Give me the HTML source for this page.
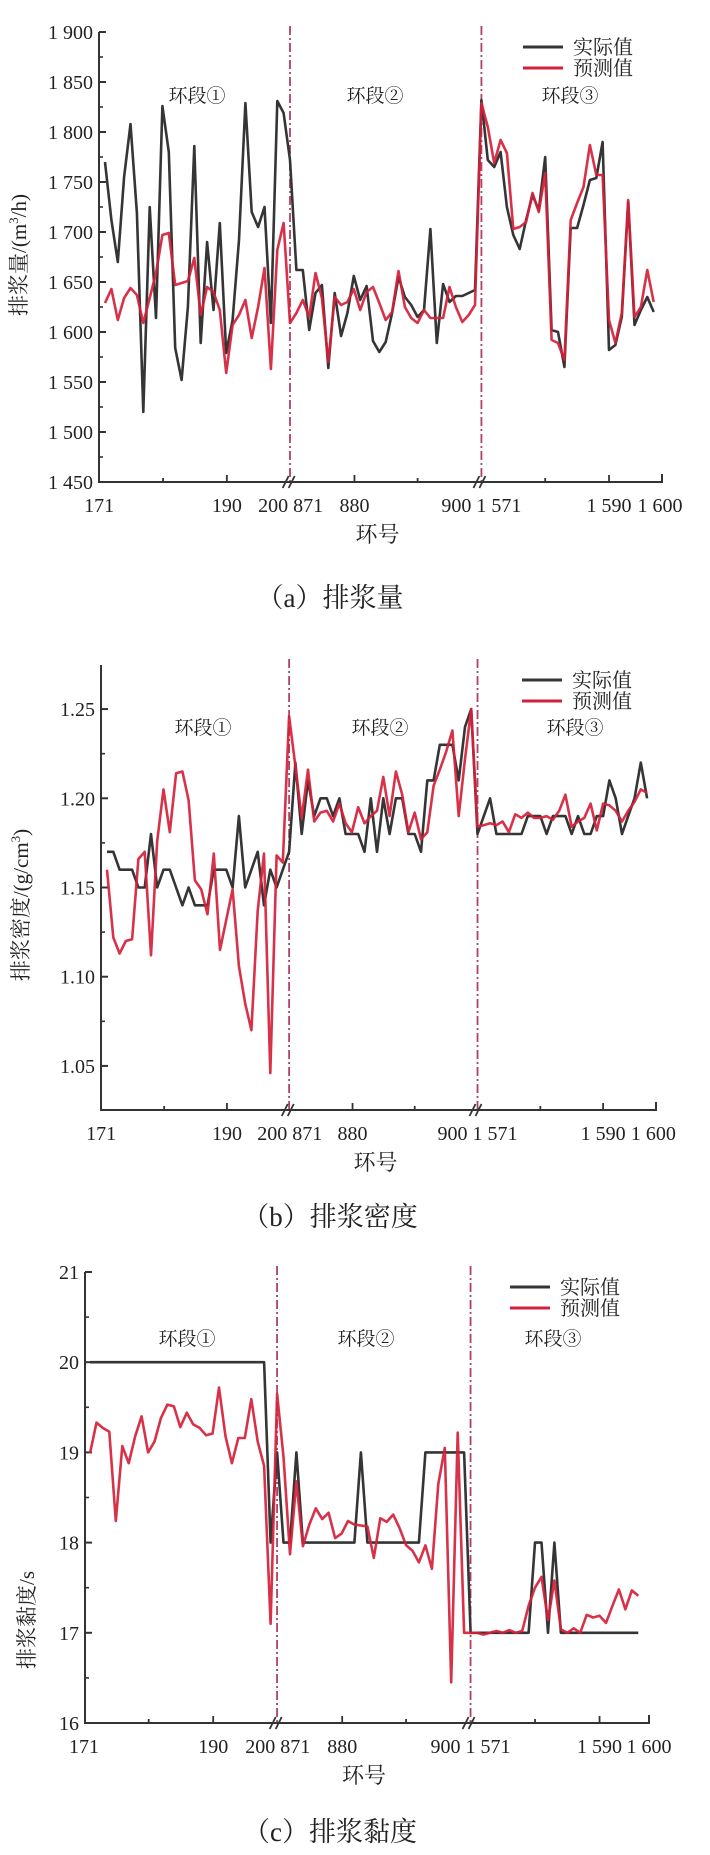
<!DOCTYPE html>
<html><head><meta charset="utf-8">
<style>
html,body{margin:0;padding:0;background:#fff;}
svg{display:block;}
text{font-family:"Liberation Serif","Noto Serif CJK SC",serif;fill:#222;}
</style></head>
<body>
<svg id="fig" width="710" height="1855" viewBox="0 0 710 1855" xmlns="http://www.w3.org/2000/svg"></svg>
<script>
// ---- shared x-axis data ----
const xTickLabels = ["171","","190","200 871","880","","900 1 571","","1 590","1 600"];
const xTickIdx = [-0.93, 9.1, 19.1, 29.1, 39.1, 49, 59, 69, 79, 87];
const segmentNames = ["环段①","环段②","环段③"];
const legendNames = ["实际值","预测值"];

// ---- panel (a) 排浆量 ----
const aActual = [1770,1712,1670,1755,1808,1719,1520,1725,1614,1826,1780,1584,1552,1625,1786,1589,1690,1622,1709,1579,1612,1692,1829,1720,1705,1725,1609,1831,1819,1772,
1662,1662,1602,1639,1647,1564,1639,1596,1619,1656,1632,1646,1591,1580,1590,1619,1655,1635,1627,1615,1622,1703,1589,1648,1630,1636,1636,1639,1642,
1832,1772,1765,1780,1725,1697,1683,1712,1737,1722,1775,1602,1600,1565,1704,1704,1727,1752,1754,1790,1582,1587,1615,1730,1607,1622,1635,1620];
const aPred = [1629,1643,1612,1634,1644,1637,1609,1634,1659,1697,1699,1647,1649,1651,1674,1617,1645,1640,1622,1559,1607,1617,1632,1594,1625,1664,1563,1682,1709,1609,
1619,1632,1615,1659,1634,1570,1635,1627,1630,1643,1622,1640,1645,1629,1612,1620,1661,1625,1614,1609,1622,1614,1614,1614,1645,1625,1610,1617,1627,
1829,1805,1769,1792,1779,1703,1705,1710,1739,1720,1759,1592,1589,1572,1712,1729,1745,1787,1757,1757,1612,1589,1619,1732,1615,1625,1662,1630];
const aYTicks = [1450,1500,1550,1600,1650,1700,1750,1800,1850,1900];
const aYLabels = ["1 450","1 500","1 550","1 600","1 650","1 700","1 750","1 800","1 850","1 900"];

// ---- panel (b) 排浆密度 ----
const bActual = [1.17,1.17,1.16,1.16,1.16,1.15,1.15,1.18,1.15,1.16,1.16,1.15,1.14,1.15,1.14,1.14,1.14,1.16,1.16,1.16,1.15,1.19,1.15,1.16,1.17,1.14,1.16,1.15,1.16,1.17,
1.22,1.18,1.21,1.19,1.20,1.20,1.19,
1.20,1.18,1.18,1.18,1.17,1.20,1.17,1.20,1.18,1.20,1.20,1.18,1.18,1.17,1.21,1.21,1.23,1.23,1.23,1.21,1.24,1.25,
1.18,1.19,1.20,1.18,1.18,1.18,1.18,1.18,1.19,1.19,1.19,1.18,1.19,1.19,1.19,1.18,1.19,1.18,1.18,1.19,1.19,1.21,1.20,1.18,1.19,1.20,1.22,1.20];
const bPred = [1.16,1.122,1.113,1.12,1.121,1.166,1.17,1.112,1.176,1.205,1.181,1.214,1.215,1.199,1.154,1.149,1.135,1.169,1.115,1.132,1.149,1.106,1.085,1.07,1.137,1.169,1.046,1.168,1.164,
1.246,1.218,1.189,1.216,1.187,1.192,1.193,1.187,
1.197,1.186,1.181,1.195,1.186,1.19,1.193,1.212,1.19,1.215,1.202,1.181,1.192,1.177,1.181,1.207,1.216,1.226,1.238,1.19,1.222,1.25,
1.184,1.185,1.186,1.185,1.187,1.181,1.191,1.189,1.192,1.189,1.189,1.19,1.188,1.193,1.202,1.184,1.187,1.189,1.197,1.182,1.197,1.196,1.193,1.187,1.193,1.198,1.205,1.203];
const bYTicks = [1.05,1.10,1.15,1.20,1.25];
const bYLabels = ["1.05","1.10","1.15","1.20","1.25"];

// ---- panel (c) 排浆黏度 ----
const cActual = [20,20,20,20,20,20,20,20,20,20,20,20,20,20,20,20,20,20,20,20,20,20,20,20,20,20,20,20,
18,19,18,18,19,18,18,18,18,18,18,18,18,18,19,18,18,18,18,18,18,18,18,18,19,19,19,19,19,19,19,
17,17,17,17,17,17,17,17,17,17,18,18,17,18,17,17,17,17,17,17,17,17,17,17,17,17,17];
const cPred = [18.99,19.33,19.27,19.23,18.24,19.07,18.88,19.18,19.40,19.00,19.12,19.38,19.53,19.51,19.28,19.44,19.31,19.27,19.19,19.21,19.72,19.18,18.88,19.16,19.16,19.59,19.12,18.85,17.1,19.65,
18.95,17.87,18.68,17.96,18.2,18.38,18.26,18.33,18.05,18.1,18.24,18.2,18.19,18.18,17.83,18.27,
18.23,18.31,18.16,17.97,17.91,17.78,17.97,17.71,18.65,19.05,16.45,19.22,17.0,
17.0,17.0,16.98,17.0,17.02,17.0,17.03,17.0,17.02,17.3,17.5,17.62,17.14,17.58,17.04,17.0,17.05,17.0,17.2,17.17,17.19,17.11,17.3,17.48,17.26,17.47,17.41];
const cYTicks = [16,17,18,19,20,21];
const cYLabels = ["16","17","18","19","20","21"];

const NS = "http://www.w3.org/2000/svg";
const svg = document.getElementById("fig");
function mk(tag, attrs, parent){
  const e = document.createElementNS(NS, tag);
  for (const k in attrs) e.setAttribute(k, attrs[k]);
  (parent||svg).appendChild(e);
  return e;
}

function panel(cfg){
  const g = mk("g", {});
  
  
  const xs = k => cfg.x0 + cfg.step * k;
  const ys = v => cfg.bottom - (v - cfg.vmin) / (cfg.vmax - cfg.vmin) * (cfg.bottom - cfg.top);
  // dashed segment separators
  [29, 59].forEach((k, i) => {
    const l = mk("line", {x1: xs(k), x2: xs(k), y1: cfg.top - 6, y2: cfg.bottom, stroke: "#b2405f", "stroke-width": 1.8, "stroke-dasharray": "9 3 2 3"}, g);
    
    
  });
  // axes
  const ax = mk("path", {d: `M${cfg.left},${cfg.top} V${cfg.bottom} H${cfg.right} v-8`, fill: "none", stroke: "#333", "stroke-width": 2}, g);
  
  
  // y ticks
  cfg.yTicks.forEach((v, i) => {
    const y = ys(v);
    mk("line", {x1: cfg.left, x2: cfg.left + 7, y1: y, y2: y, stroke: "#333", "stroke-width": 2}, g);
    if (i < cfg.yTicks.length - 1) {
      const ym = ys((v + cfg.yTicks[i + 1]) / 2);
      mk("line", {x1: cfg.left, x2: cfg.left + 4, y1: ym, y2: ym, stroke: "#333", "stroke-width": 1.6}, g);
    }
    const t = mk("text", {x: cfg.left - 6, y: y + 7, "text-anchor": "end", "font-size": 20}, g);
    t.textContent = cfg.yLabels[i];
    
    
  });
  // x ticks
  xTickIdx.forEach((k, i) => {
    const x = Math.min(xs(k), cfg.right);
    const isBreak = (i === 3 || i === 6);
    if (isBreak) {
      mk("path", {d: `M${x-8},${cfg.bottom+6} L${x-2},${cfg.bottom-6} M${x-2},${cfg.bottom+6} L${x+4},${cfg.bottom-6}`, stroke: "#333", "stroke-width": 1.8, fill: "none"}, g);
    } else if (i > 0 && i < xTickIdx.length - 1) {
      const len = xTickLabels[i] ? 7 : 4;
      mk("line", {x1: x, x2: x, y1: cfg.bottom, y2: cfg.bottom - len, stroke: "#333", "stroke-width": 1.8}, g);
    }
    if (xTickLabels[i]) {
      const t = mk("text", {x: x, y: cfg.bottom + 30, "text-anchor": "middle", "font-size": 20}, g);
      t.textContent = xTickLabels[i];
      
      
    }
  });
  // x-axis title
  const xt = mk("text", {x: (cfg.left + cfg.right) / 2 - 3, y: cfg.bottom + 60, "text-anchor": "middle", "font-size": 22}, g);
  xt.textContent = "环号";
  
  
  // y-axis title
  const yt = mk("text", {x: 0, y: 0, "text-anchor": "middle", "font-size": 21, transform: `translate(${cfg.ytX},${cfg.ytY}) rotate(-90)`}, g);
  yt.innerHTML = cfg.yTitle;
  
  
  // segment labels
  segmentNames.forEach((s, i) => {
    const t = mk("text", {x: cfg.segX[i], y: cfg.segY, "text-anchor": "middle", "font-size": 19}, g);
    t.textContent = s;
    
    
  });
  // series
  [[cfg.actual, "#353535"], [cfg.pred, "#d42139"]].forEach((pair, si) => {
    const pts = pair[0].map((v, k) => xs(k).toFixed(1) + "," + ys(v).toFixed(1)).join(" ");
    const p = mk("polyline", {points: pts, fill: "none", stroke: pair[1], "stroke-width": 2.6, "stroke-linejoin": "round", "stroke-opacity": si ? 0.92 : 1}, g);
    
    
  });
  // legend
  [["#353535", legendNames[0]], ["#d42139", legendNames[1]]].forEach((L, i) => {
    const y = cfg.legY + i * 21;
    const lg = mk("g", {}, g);
    
    
    mk("line", {x1: cfg.legX, x2: cfg.legX + 40, y1: y, y2: y, stroke: L[0], "stroke-width": 3}, lg);
    const t = mk("text", {x: cfg.legX + 50, y: y + 7, "font-size": 20}, lg);
    t.textContent = L[1];
  });
  // caption
  const c = mk("text", {x: cfg.capX, y: cfg.capY, "text-anchor": "middle", "font-size": 27}, g);
  c.textContent = cfg.caption;
  
  
}

panel({id: "discharge-volume", x0: 105, step: 6.38, left: 99, right: 662, top: 32, bottom: 482, vmin: 1450, vmax: 1900,
  yTicks: aYTicks, yLabels: aYLabels, actual: aActual, pred: aPred,
  yTitle: '排浆量/(m<tspan font-size="13" dy="-8">3</tspan><tspan dy="8">/h)</tspan>', ytX: 26, ytY: 255,
  segX: [197, 375, 570], segY: 102, legX: 523, legY: 47, caption: "（a）排浆量", capX: 330, capY: 607});
panel({id: "discharge-density", x0: 107, step: 6.28, left: 101, right: 656, top: 665, bottom: 1110, vmin: 1.0253, vmax: 1.2747,
  yTicks: bYTicks, yLabels: bYLabels, actual: bActual, pred: bPred,
  yTitle: '排浆密度/(g/cm<tspan font-size="13" dy="-8">3</tspan><tspan dy="8">)</tspan>', ytX: 28, ytY: 905,
  segX: [203, 380, 575], segY: 734, legX: 522, legY: 680, caption: "（b）排浆密度", capX: 330, capY: 1226});
panel({id: "discharge-viscosity", x0: 90, step: 6.45, left: 85, right: 649, top: 1272, bottom: 1723, vmin: 16, vmax: 21,
  yTicks: cYTicks, yLabels: cYLabels, actual: cActual, pred: cPred,
  yTitle: '排浆黏度/s', ytX: 34, ytY: 1620,
  segX: [187, 366, 553], segY: 1345, legX: 510, legY: 1287, caption: "（c）排浆黏度", capX: 330, capY: 1841});
</script>
</body></html>
